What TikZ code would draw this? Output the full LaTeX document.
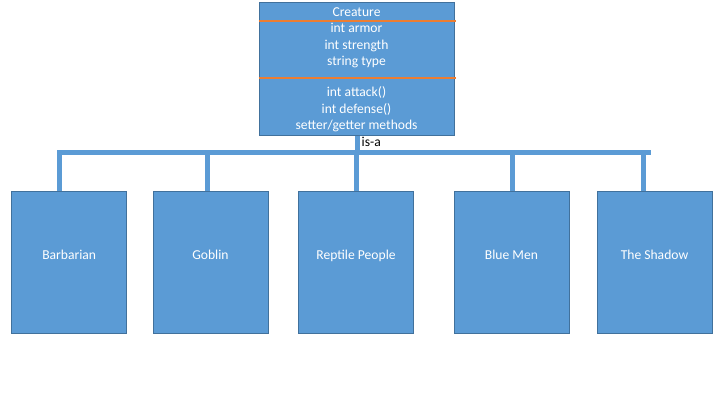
\documentclass[tikz,border=0pt]{standalone}
\usepackage{fontspec}
\setmainfont{Carlito}
\usetikzlibrary{calc}
\definecolor{boxfill}{HTML}{5B9BD5}
\definecolor{boxline}{HTML}{41719C}
\definecolor{sepcol}{HTML}{ED7D31}
\begin{document}
\begin{tikzpicture}[x=1pt,y=-1pt,
  childbox/.style={draw=boxline, fill=boxfill, line width=1pt, minimum width=115pt, minimum height=142pt, inner sep=0pt},
  boxtext/.style={text=white, font=\fontsize{13.6}{16.5}\selectfont, align=center, inner sep=0pt},
  labtext/.style={boxtext, text height=9.5pt, text depth=3pt},
  conn/.style={draw=boxfill, line width=5pt},
  sepline/.style={draw=sepcol, line width=2pt}]
\useasboundingbox (0,0) rectangle (720,405);
% parent
\node[childbox, minimum width=195pt, minimum height=132.3pt] (parent) at (356.5,68.85) {};
\draw[sepline] (parent.west |- 0,20.7) -- ($(parent.east |- 0,20.7)+(1.5,0)$);
\draw[sepline] (parent.west |- 0,77.7) -- ($(parent.east |- 0,77.7)+(1.5,0)$);
\node[boxtext] (ptitle) at (356.5,12.5) {Creature};
\node[boxtext] (pattr) at (356.5,45.5) {int armor\\int strength\\string type};
\node[boxtext] (pmeth) at (356.5,109.5) {int attack()\\int defense()\\setter/getter methods};
% children
\node[childbox, label={[labtext, yshift=7pt]center:Barbarian}] (barb) at (69.2,262.8) {};
\node[childbox, label={[labtext, yshift=7pt]center:Goblin}] (gob) at (210.5,262.8) {};
\node[childbox, label={[labtext, yshift=7pt]center:Reptile People}] (rep) at (356,262.8) {};
\node[childbox, label={[labtext, yshift=7pt]center:Blue Men}] (blue) at (511.5,262.8) {};
\node[childbox, label={[labtext, yshift=7pt]center:The Shadow}] (shad) at (654.5,262.8) {};
% bar coordinates
\coordinate (bl) at (57,152.5);
\coordinate (br) at (651,152.5);
\coordinate (sb) at (59.5,152.5);
\coordinate (sg) at (207.5,152.5);
\coordinate (sr) at (356.5,152.5);
\coordinate (su) at (512.5,152.5);
\coordinate (ss) at (643.5,152.5);
\coordinate (sp) at (357.5,152.5);
\draw[conn] (bl) -- (br);
\draw[conn] (parent.south -| sp) -- (sp);
\draw[conn] (sb) -- (barb.north -| sb);
\draw[conn] (sg) -- (gob.north -| sg);
\draw[conn] (sr) -- (rep.north -| sr);
\draw[conn] (su) -- (blue.north -| su);
\draw[conn] (ss) -- (shad.north -| ss);
\node[anchor=west, inner sep=0pt, font=\fontsize{13.6}{16}\selectfont] (isa) at (361.5,142) {is-a};
\end{tikzpicture}
\end{document}
